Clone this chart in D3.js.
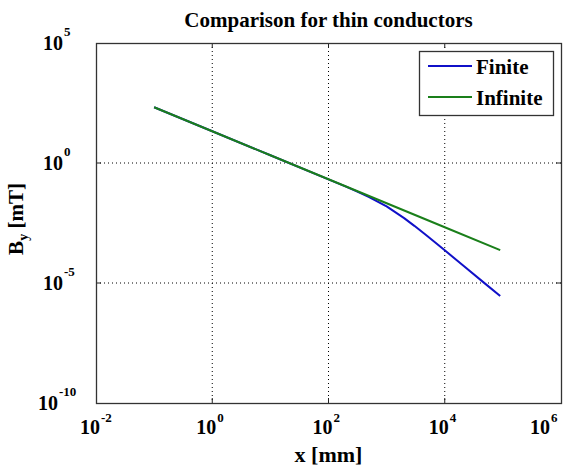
<!DOCTYPE html>
<html>
  <head>
    <meta charset="utf-8">
    <title>Comparison for thin conductors</title>
    <script src="https://cdn.jsdelivr.net/npm/d3@7"></script>
    <style>
      body { margin: 0; background: #fff; }
      svg { display: block; font-family: "Liberation Serif", "Times New Roman", serif; font-weight: bold; }
      .grid line { stroke: #000; stroke-width: 1; stroke-dasharray: 1 3; }
    </style>
  </head>

  <body>
    <svg id="chart" width="577" height="470"></svg>

    <script>
      // data (x in mm, B in mT)
      xTicks = [-2, 0, 2, 4, 6];
      yTicks = [5, 0, -5, -10];
      seriesNames = ["Finite", "Infinite"];
      seriesColors = ["#1010c8", "#1a7f1a"];
      finiteX = [0.1, 1, 10, 100, 200, 300, 500, 1000, 2000, 3000, 5000, 10000, 20000, 50000, 90000];
      finiteY = [210, 21, 2.1, 0.209, 0.103, 0.0675, 0.0382, 0.0155, 0.00506, 0.00241, 0.000903, 0.00023, 0.0000577, 0.0000092, 0.00000285];
      infiniteX = [0.1, 1, 10, 100, 1000, 10000, 90000];
      infiniteY = [210, 21, 2.1, 0.21, 0.021, 0.0021, 0.000233];

      chart = d3.select("#chart");
      margin = { top: 43, right: 16, bottom: 67, left: 96 };
      width = 577;
      height = 470;

      x = d3.scaleLog()
        .domain([1e-2, 1e6])
        .range([margin.left, width - margin.right]);
      y = d3.scaleLog()
        .domain([1e-10, 1e5])
        .range([height - margin.bottom, margin.top]);

      x0 = x.range()[0]; x1 = x.range()[1];
      y0 = y.range()[1]; y1 = y.range()[0];

      // grid
      grid = chart.append("g").classed("grid", true);
      grid.selectAll(".gx")
        .data(xTicks.slice(1, -1))
        .enter().append("line")
          .attr("x1", d => x(Math.pow(10, d)))
          .attr("x2", d => x(Math.pow(10, d)))
          .attr("y1", y0)
          .attr("y2", y1);
      grid.selectAll(".gy")
        .data(yTicks.slice(1, -1))
        .enter().append("line")
          .attr("x1", x0)
          .attr("x2", x1)
          .attr("y1", d => y(Math.pow(10, d)))
          .attr("y2", d => y(Math.pow(10, d)));

      // lines
      line = d3.line()
        .x(d => x(d[0]))
        .y(d => y(d[1]));
      series = [
        d3.zip(finiteX, finiteY),
        d3.zip(infiniteX, infiniteY)
      ];
      chart.selectAll(".series")
        .data(series)
        .enter().append("path")
          .classed("series", true)
          .attr("d", line)
          .attr("fill", "none")
          .attr("stroke", (d, i) => seriesColors[i])
          .attr("stroke-width", 2)
          .attr("stroke-linejoin", "round");

      // tick marks inside the box
      ticks = chart.append("g")
        .attr("stroke", "#222")
        .attr("stroke-width", 1);
      xTicks.slice(1, -1).forEach(d => {
        let px = x(Math.pow(10, d));
        ticks.append("line").attr("x1", px).attr("x2", px).attr("y1", y1).attr("y2", y1 - 5);
        ticks.append("line").attr("x1", px).attr("x2", px).attr("y1", y0).attr("y2", y0 + 5);
      });
      yTicks.slice(1, -1).forEach(d => {
        let py = y(Math.pow(10, d));
        ticks.append("line").attr("x1", x0).attr("x2", x0 + 5).attr("y1", py).attr("y2", py);
        ticks.append("line").attr("x1", x1).attr("x2", x1 - 5).attr("y1", py).attr("y2", py);
      });

      // box
      chart.append("rect")
        .attr("x", x0 + 0.5)
        .attr("y", y0 + 0.5)
        .attr("width", x1 - x0)
        .attr("height", y1 - y0)
        .attr("fill", "none")
        .attr("stroke", "#333")
        .attr("stroke-width", 1.3);

      // x tick labels
      xLabels = chart.append("g");
      xTicks.forEach(d => {
        let px = Math.min(x(Math.pow(10, d)) + 4, 550);
        xLabels.append("text")
          .attr("x", px).attr("y", 434)
          .attr("text-anchor", "end")
          .attr("font-size", 20)
          .text("10");
        xLabels.append("text")
          .attr("x", px + 1).attr("y", 422)
          .attr("font-size", 13)
          .text(d < 0 ? "-" + (-d) : d);
      });

      // y tick labels
      yLabels = chart.append("g");
      yTicks.forEach(d => {
        let py = y(Math.pow(10, d));
        let px = d == -10 ? 58 : 63;
        yLabels.append("text")
          .attr("x", px).attr("y", py + 7)
          .attr("text-anchor", "end")
          .attr("font-size", 20)
          .text("10");
        yLabels.append("text")
          .attr("x", px + 1).attr("y", py - 7)
          .attr("font-size", 13)
          .text(d < 0 ? "-" + (-d) : d);
      });

      // titles
      chart.append("text")
        .attr("x", (x0 + x1) / 2).attr("y", 27)
        .attr("text-anchor", "middle")
        .attr("font-size", 21)
        .text("Comparison for thin conductors");
      chart.append("text")
        .attr("x", (x0 + x1) / 2).attr("y", 462)
        .attr("text-anchor", "middle")
        .attr("font-size", 22)
        .text("x [mm]");
      yTitle = chart.append("text")
        .attr("transform", "translate(23, " + ((y0 + y1) / 2 - 4) + ") rotate(-90)")
        .attr("text-anchor", "middle")
        .attr("font-size", 21);
      yTitle.append("tspan").text("B");
      yTitle.append("tspan").attr("font-size", 14).attr("dy", 5).text("y");
      yTitle.append("tspan").attr("dy", -5).text(" [mT]");

      // legend
      legend = chart.append("g")
        .attr("transform", "translate(419, 51)");
      legend.append("rect")
        .attr("x", 0.5).attr("y", 0.5)
        .attr("width", 134).attr("height", 64)
        .attr("fill", "#fff")
        .attr("stroke", "#333")
        .attr("stroke-width", 1.3);
      seriesNames.forEach((name, i) => {
        let ly = 15 + i * 31;
        legend.append("line")
          .attr("x1", 9).attr("x2", 53)
          .attr("y1", ly).attr("y2", ly)
          .attr("stroke", seriesColors[i])
          .attr("stroke-width", 2);
        legend.append("text")
          .attr("x", 57).attr("y", ly + 8)
          .attr("font-size", 21)
          .text(name);
      });
    </script>
  </body>
</html>
